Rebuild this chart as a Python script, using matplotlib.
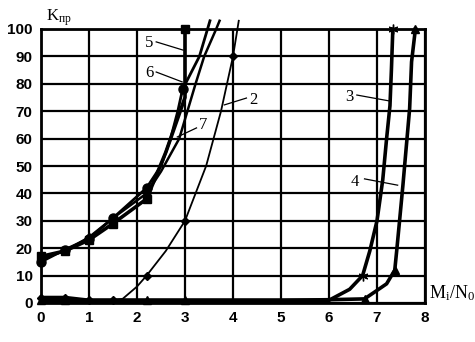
import matplotlib
matplotlib.use("Agg")
from matplotlib import pyplot as plt

plt.rcParams["font.family"] = ["Liberation Serif", "DejaVu Serif"]
plt.rcParams["mathtext.fontset"] = "stix"

# curve 2 (thin, diamonds)
x2 = [0, 0.5, 1, 1.5, 1.7, 2.0, 2.2, 2.6, 3.0, 3.44, 3.75, 4.0, 4.12]
y2 = [2, 2, 1, 1, 1.5, 6, 10, 19, 30, 50, 70, 90, 103]
x2_mark = [0, 0.5, 1, 1.5, 2.2, 3.0, 4.0]
y2_mark = [2, 2, 1, 1, 10, 30, 90]

# curve 3 (thick, stars)
x3 = [0, 0.5, 1, 1.5, 2.2, 3, 4, 5, 6, 6.43, 6.7, 6.85, 7.0, 7.12, 7.2, 7.27, 7.3, 7.33]
y3 = [2, 2, 1, 1, 1, 1, 1, 1, 1, 5, 10, 19, 30, 45, 60, 72, 85, 100]
x3_mark = [6.7, 7.33]
y3_mark = [10, 100]

# curve 4 (thick, triangles)
x4 = [0, 0.5, 1, 1.5, 2.2, 3, 4, 5, 6, 6.74, 6.95, 7.2, 7.37, 7.41, 7.47, 7.54, 7.6, 7.68, 7.72, 7.8]
y4 = [1, 1, 1, 1, 1, 1, 1, 1, 1.2, 1.5, 4, 7, 12, 19, 30, 43, 55, 71, 88, 100]
x4_mark = [0, 0.5, 2.2, 3, 6.74, 7.37, 7.8]
y4_mark = [1, 1, 1, 1, 1.5, 12, 100]

# curve 5 (thick, squares)
x5 = [0, 0.5, 1, 1.5, 2.2, 2.6, 2.9, 3.0, 3.0]
y5 = [17, 19, 23, 29, 38, 55, 70, 75, 100]
x5_mark = [0, 0.5, 1, 1.5, 2.2, 3.0]
y5_mark = [17, 19, 23, 29, 38, 100]

# curve 6 (circles)
x6 = [0, 0.5, 1, 1.5, 2.2, 2.5, 2.7, 2.85, 2.95, 3.3, 3.47, 3.52]
y6 = [15, 19.5, 23.5, 31, 42, 50, 60, 70, 78, 90, 100, 103]
x6_mark = [0, 0.5, 1, 1.5, 2.2, 2.95]
y6_mark = [15, 19.5, 23.5, 31, 42, 78]

# curve 7
x7 = [0, 0.5, 1, 1.5, 2.2, 2.5, 2.88, 3.05, 3.22, 3.4, 3.65, 3.72]
y7 = [16, 19, 24, 31, 40, 48, 60, 70, 80, 90, 100, 103]
x7_mark = [0, 0.5, 1, 1.5, 2.2]
y7_mark = [16, 19, 24, 31, 40]

# curve labels: (text, text x, text y, leader start, leader end)
labels = [
    ("5", 2.25, 95, (2.4, 95.3), (2.96, 92.3)),
    ("6", 2.25, 84, (2.4, 84.3), (2.94, 80.7)),
    ("7", 3.38, 65, (3.24, 63.9), (2.84, 60.6)),
    ("2", 4.42, 74, (4.28, 74.8), (3.82, 72.3)),
    ("3", 6.43, 75, (6.58, 75.9), (7.27, 73.7)),
    ("4", 6.53, 44, (6.74, 45.3), (7.43, 43.0)),
]


def draw_curve(ax, x, y, mx, my, marker, lw, ms):
    ax.plot(x, y, color="black", lw=lw, clip_on=False, zorder=3)
    ax.plot(mx, my, ls="none", marker=marker, color="black", ms=ms, clip_on=False, zorder=4)


def main():
    fig = plt.figure(figsize=(4.75, 3.42), dpi=100)
    ax = fig.add_axes([41 / 475, 1 - 303 / 342, 384 / 475, 274 / 342])

    ax.set_xlim(0, 8)
    ax.set_ylim(0, 100)
    ax.set_xticks(range(0, 9))
    ax.set_yticks(range(0, 101, 10))
    ax.grid(True, color="black", lw=1.6)
    ax.set_axisbelow(True)
    for spine in ax.spines.values():
        spine.set_linewidth(2)
    ax.tick_params(length=0, pad=6, labelsize=11)
    for lab in ax.get_xticklabels() + ax.get_yticklabels():
        lab.set_family("Liberation Sans")
        lab.set_fontweight("bold")

    draw_curve(ax, x2, y2, x2_mark, y2_mark, "D", 1.3, 4)
    draw_curve(ax, x3, y3, x3_mark, y3_mark, (6, 2, 0), 2.6, 7)
    draw_curve(ax, x4, y4, x4_mark, y4_mark, "^", 2.6, 6)
    draw_curve(ax, x5, y5, x5_mark, y5_mark, "s", 2.6, 6)
    draw_curve(ax, x6, y6, x6_mark, y6_mark, "o", 2.0, 6.5)
    draw_curve(ax, x7, y7, x7_mark, y7_mark, "D", 1.8, 4)

    for text, tx, ty, p0, p1 in labels:
        ax.text(tx, ty, text, fontsize=12, ha="center", va="center",
                bbox=dict(fc="white", ec="none", pad=0.5), zorder=5)
        ax.plot([p0[0], p1[0]], [p0[1], p1[1]], color="black", lw=0.9, zorder=5)

    ax.text(0.012, 1.03, r"K$\mathregular{_{пр}}$", transform=ax.transAxes,
            fontsize=12, ha="left", va="baseline")
    ax.text(1.01, 0.0, r"M$_{\mathregular{i}}$/N$_{\mathregular{0}}$", transform=ax.transAxes,
            fontsize=13, ha="left", va="bottom")

    fig.savefig("out.png", dpi=100)


if __name__ == "__main__":
    main()
